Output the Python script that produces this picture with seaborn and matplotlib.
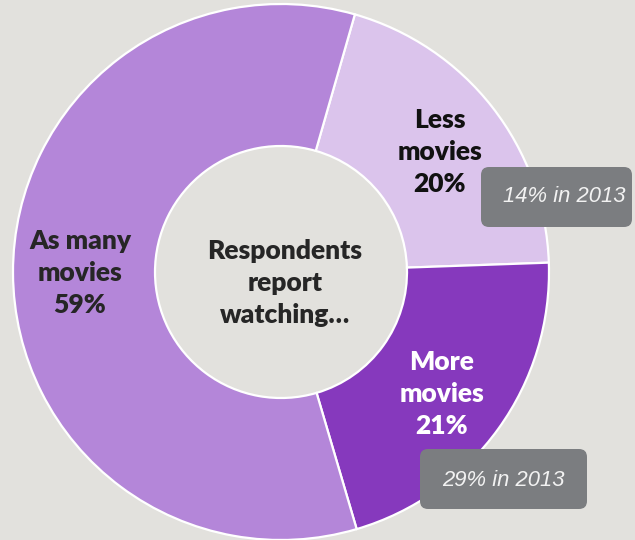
import matplotlib
matplotlib.use("Agg")
import matplotlib.pyplot as plt
import seaborn as sns
from matplotlib.patches import FancyBboxPatch

# Survey answers (clockwise from just right of twelve o'clock)
categories = ["Less\nmovies", "More\nmovies", "As many\nmovies"]
shares = [20, 21, 59]
previous_labels = ["14% in 2013", "29% in 2013"]
center_title = "Respondents\nreport\nwatching…"

colors = ["#dbc4ec", "#8639bd", "#b486d9"]
label_colors = ["#111111", "#ffffff", "#262626"]
bg = "#e2e1dd"

sns.set_theme(style="white")
plt.rcParams["font.family"] = ["Lato", "DejaVu Sans"]

W, H = 635, 540
R_PX = 268.0
CX, CY = 281.0, 272.0

fig = plt.figure(figsize=(W / 100, H / 100), dpi=100, facecolor=bg)
ax = fig.add_axes([0, 0, 1, 1])
ax.set_facecolor(bg)
ax.axis("off")


def px(x, y):
    """Pixel position (origin top-left) to axes data coordinates."""
    return (x - CX) / R_PX, (CY - y) / R_PX


wedges, _ = ax.pie(
    shares,
    colors=colors,
    startangle=74,
    counterclock=False,
    radius=1.0,
    wedgeprops=dict(width=1.0 - 126 / R_PX, edgecolor="white", linewidth=1.6),
    frame=False,
)
ax.set_xlim(-CX / R_PX, (W - CX) / R_PX)
ax.set_ylim(-(H - CY) / R_PX, CY / R_PX)
ax.set_aspect("auto")

# Segment labels
label_pos = [(440, 152), (442, 394), (80, 273)]
for cat, val, (lx, ly), col in zip(categories, shares, label_pos, label_colors):
    ax.text(*px(lx, ly), f"{cat}\n{val}%", ha="center", va="center",
            fontsize=19, fontweight="heavy", color=col, linespacing=1.38)

ax.text(*px(285, 283), center_title, ha="center", va="center",
        fontsize=19, fontweight="heavy", color="#262626", linespacing=1.38)

# Comparison call-outs
boxes = [((481, 167, 632, 227), (564, 196)), ((420, 449, 587, 509), (503, 480))]
for text, ((x0, y0, x1, y1), (tx, ty)) in zip(previous_labels, boxes):
    bx, by = px(x0, y1)
    bw, bh = (x1 - x0) / R_PX, (y1 - y0) / R_PX
    pad = 8 / R_PX
    ax.add_patch(FancyBboxPatch((bx + pad, by + pad), bw - 2 * pad, bh - 2 * pad,
                                boxstyle=f"round,pad={pad},rounding_size={pad}",
                                facecolor="#7b7d80", edgecolor="none", zorder=5))
    ax.text(*px(tx, ty), text, ha="center", va="center", fontsize=15.8,
            fontstyle="italic", color="#f2f2f2", zorder=6,
            family=["Liberation Sans", "DejaVu Sans"])

fig.savefig("out.png", dpi=100, facecolor=bg)
